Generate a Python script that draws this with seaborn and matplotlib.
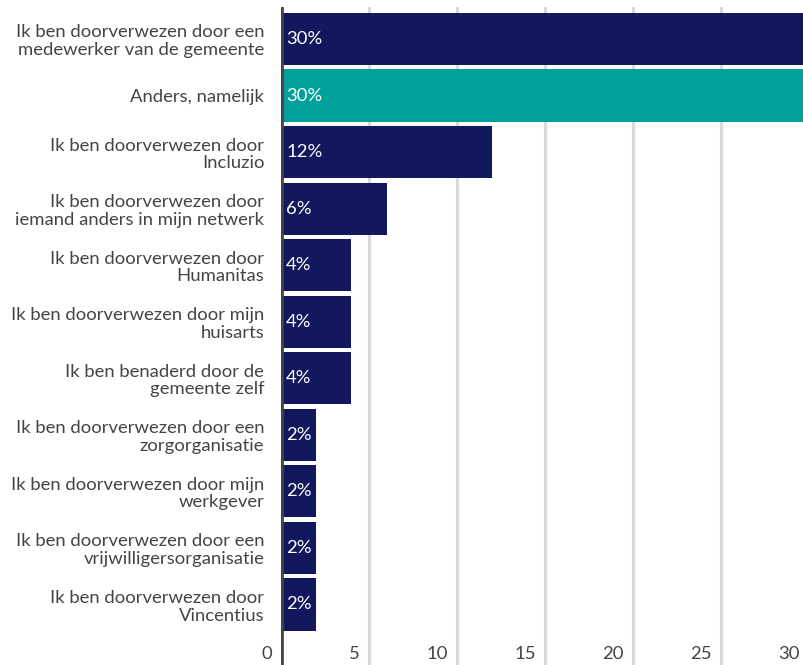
import matplotlib
matplotlib.use("Agg")
import matplotlib.pyplot as plt
import matplotlib.transforms as mtransforms
import seaborn as sns
import pandas as pd

categories = [
    "Ik ben doorverwezen door een\nmedewerker van de gemeente",
    "Anders, namelijk",
    "Ik ben doorverwezen door\nIncluzio",
    "Ik ben doorverwezen door\niemand anders in mijn netwerk",
    "Ik ben doorverwezen door\nHumanitas",
    "Ik ben doorverwezen door mijn\nhuisarts",
    "Ik ben benaderd door de\ngemeente zelf",
    "Ik ben doorverwezen door een\nzorgorganisatie",
    "Ik ben doorverwezen door mijn\nwerkgever",
    "Ik ben doorverwezen door een\nvrijwilligersorganisatie",
    "Ik ben doorverwezen door\nVincentius",
]
values = [30, 30, 12, 6, 4, 4, 4, 2, 2, 2, 2]
groups = ["main", "other", "main", "main", "main", "main", "main", "main", "main", "main", "main"]
x_ticks = [0, 5, 10, 15, 20, 25, 30]

NAVY = "#12175e"
TEAL = "#00a19a"
TEXT = "#444444"

df = pd.DataFrame({"label": categories, "value": values, "group": groups})

sns.set_theme(style="white")
plt.rcParams["font.family"] = ["Lato", "DejaVu Sans"]

fig = plt.figure(figsize=(8.04, 6.65), dpi=100)
ax = fig.add_axes([281 / 804, 0.0, 1 - 281 / 804, 658 / 665])

sns.barplot(
    data=df, x="value", y="label", hue="group",
    palette={"main": NAVY, "other": TEAL},
    orient="h", width=0.92, dodge=False, legend=False,
    saturation=1, linewidth=0, ax=ax,
)

ax.set_xlim(0, 29.72)
ax.set_ylim(11.07, -0.565)

# vertical gridlines
for t in x_ticks[1:]:
    ax.axvline(t, color="#d9d9d9", lw=2.2, zorder=0)
ax.axvline(0, color="#444444", lw=3.4, zorder=3)

for s in ax.spines.values():
    s.set_visible(False)
ax.set_xlabel("")
ax.set_ylabel("")
ax.set_xticks([])
ax.tick_params(axis="y", length=0, pad=12, labelsize=13.3, labelcolor=TEXT)
for lbl in ax.get_yticklabels():
    lbl.set_horizontalalignment("right")
    lbl.set_multialignment("right")
    lbl.set_linespacing(1.12)

# x tick labels drawn inside the plot area, just left of each gridline
trans = mtransforms.blended_transform_factory(ax.transData, ax.transAxes)
shift = mtransforms.ScaledTranslation(-9 / 100, 0, fig.dpi_scale_trans)
for t in x_ticks:
    ax.text(t, 0.004, str(t), transform=trans + shift, ha="right", va="bottom",
            fontsize=13.3, color=TEXT, clip_on=False)

# value labels inside the bars
for i, v in enumerate(values):
    ax.text(0.3, i, f"{v}%", ha="left", va="center", color="white",
            fontsize=13.3, zorder=4)

fig.savefig("out.png", dpi=100)
